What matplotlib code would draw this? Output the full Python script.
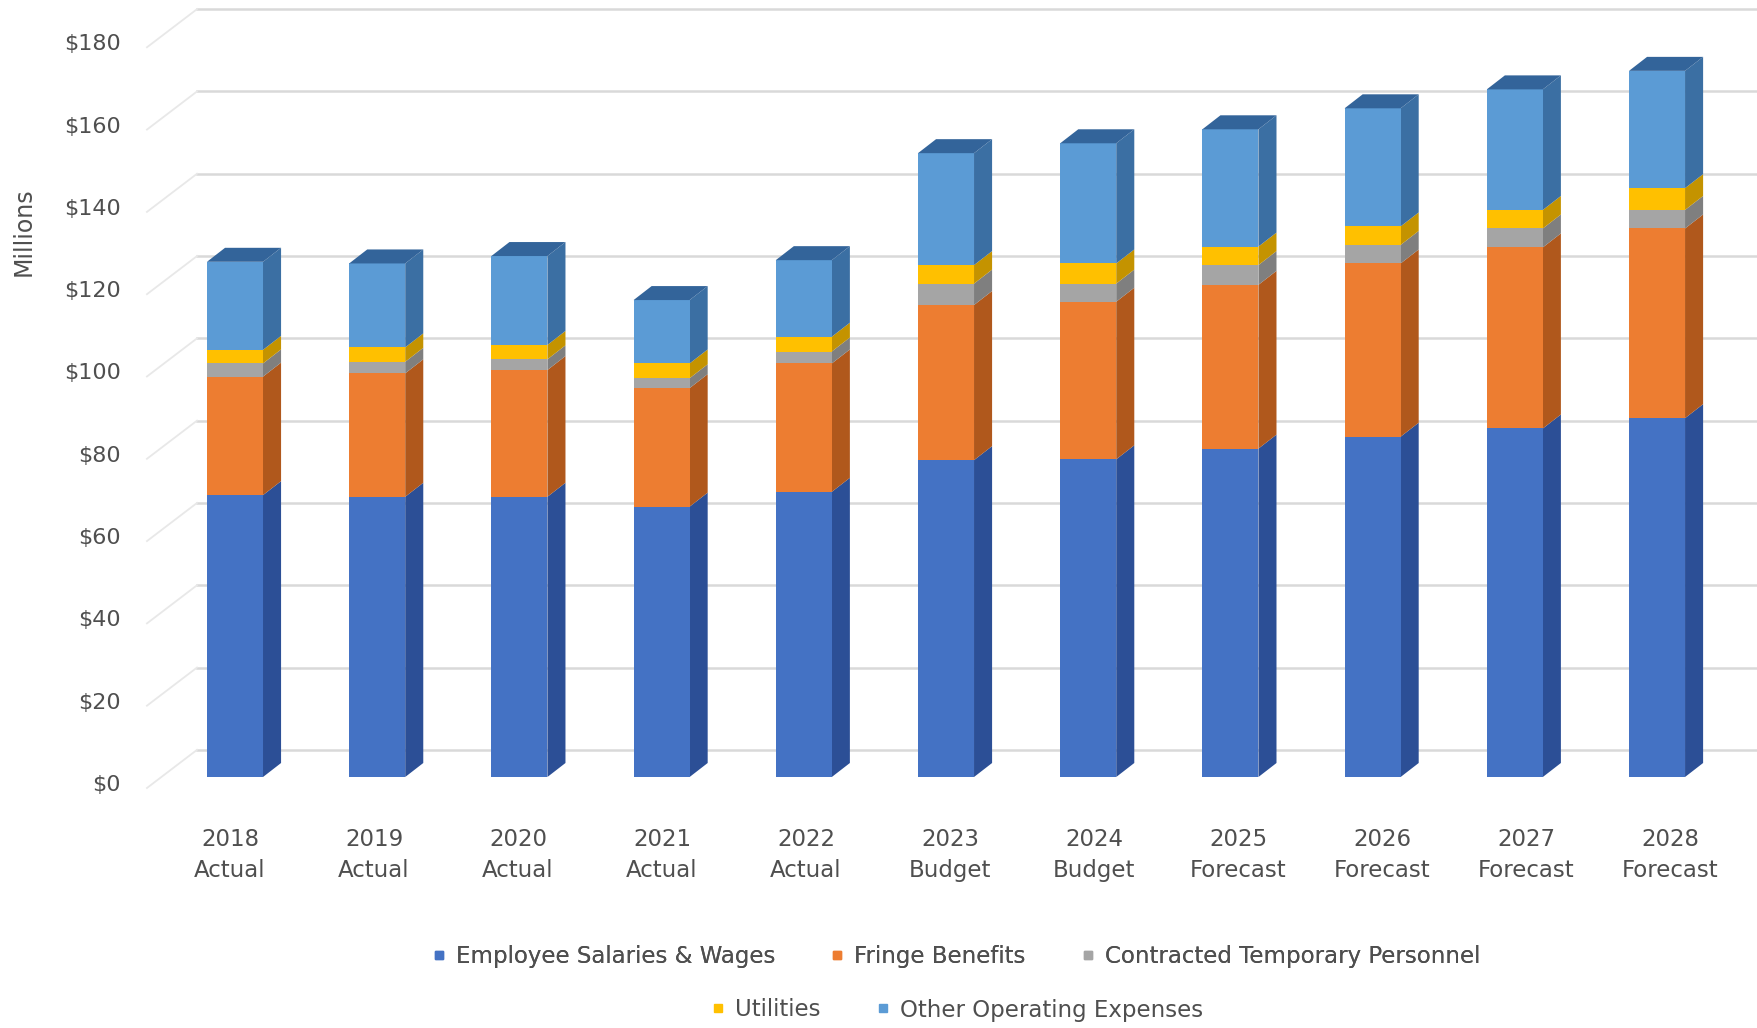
import numpy as np
import matplotlib
matplotlib.use("Agg")
import matplotlib.pyplot as plt
from matplotlib.patches import Polygon
from matplotlib.lines import Line2D
from matplotlib.transforms import ScaledTranslation

# Operating budget by category, $ millions
years = ["2018", "2019", "2020", "2021", "2022", "2023", "2024", "2025", "2026", "2027", "2028"]
kinds = ["Actual", "Actual", "Actual", "Actual", "Actual", "Budget", "Budget",
         "Forecast", "Forecast", "Forecast", "Forecast"]

salaries = [68.5, 68.1, 68.1, 65.7, 69.3, 77.0, 77.2, 79.8, 82.7, 84.7, 87.2]
fringe = [28.8, 30.0, 30.8, 28.8, 31.2, 37.7, 38.3, 39.8, 42.1, 44.0, 46.1]
contracted = [3.2, 2.8, 2.6, 2.4, 2.9, 5.2, 4.4, 4.8, 4.5, 4.6, 4.5]
utilities = [3.3, 3.5, 3.5, 3.6, 3.6, 4.5, 4.9, 4.5, 4.5, 4.5, 5.3]
other_opex = [21.4, 20.4, 21.6, 15.4, 18.6, 27.2, 29.2, 28.5, 28.7, 29.3, 28.5]

series_names = ["Employee Salaries & Wages", "Fringe Benefits", "Contracted Temporary Personnel",
                "Utilities", "Other Operating Expenses"]
front_colors = ["#4472C4", "#ED7D31", "#A5A5A5", "#FFC000", "#5B9BD5"]
side_colors = ["#2C4F96", "#B0581C", "#7F7F7F", "#C49300", "#3B6FA3"]
top_color = "#33649A"
yticks = list(range(0, 181, 20))

text_color = "#4f4f4f"
grid_color = "#d9d9d9"

# pseudo-3D geometry (category units / $M units)
bar_w = 0.394
dx, dy = 0.127, 3.4          # bar depth offset
wall_x0, wall_dy = -0.267, 6.6  # back wall start and lift
front_x, front_dy = -0.619, -2.67

W, H = 1757, 1028
fig = plt.figure(figsize=(W / 100, H / 100), dpi=100)
ax = fig.add_axes([140 / W, 1 - 800 / H, (W - 140) / W, 800 / H])
ax.set_xlim(-0.668, 10.703)
ax.set_ylim(-5.59, 188.82)
for s in ax.spines.values():
    s.set_visible(False)

# back wall gridlines and the slanted left-wall lines
for v in yticks:
    ax.plot([wall_x0, 10.703], [v + wall_dy, v + wall_dy], color=grid_color, lw=1.8, zorder=1)
    ax.plot([front_x, wall_x0], [v + front_dy, v + wall_dy], color="#e8e8e8", lw=1.3, zorder=1)

x = np.arange(len(years))
stack = [salaries, fringe, contracted, utilities, other_opex]
bottom = np.zeros(len(years))
for k, vals in enumerate(stack):
    vals = np.array(vals)
    ax.bar(x, vals, bottom=bottom, width=bar_w, color=front_colors[k], zorder=3, linewidth=0)
    for i in range(len(x)):
        b, t = bottom[i], bottom[i] + vals[i]
        r = x[i] + bar_w / 2
        side = Polygon([(r, b), (r + dx, b + dy), (r + dx, t + dy), (r, t)],
                       closed=True, facecolor=side_colors[k], edgecolor="none", zorder=2.5)
        ax.add_patch(side)
    bottom = bottom + vals

# top faces
for i in range(len(x)):
    l, r, t = x[i] - bar_w / 2, x[i] + bar_w / 2, bottom[i]
    ax.add_patch(Polygon([(l, t), (l + dx, t + dy), (r + dx, t + dy), (r, t)],
                         closed=True, facecolor=top_color, edgecolor="none", zorder=3.5))

# axis labels
ax.set_yticks(yticks)
ax.set_yticklabels([f"${v}" for v in yticks], fontsize=16, color=text_color)
ax.tick_params(axis="y", length=0, pad=14)
shift = ScaledTranslation(0, -6 / 100, fig.dpi_scale_trans)
for lab in ax.get_yticklabels():
    lab.set_transform(lab.get_transform() + shift)

ax.set_xticks(x * 1.0127 - 0.035)
ax.set_xticklabels([f"{y}\n{k}" for y, k in zip(years, kinds)], fontsize=16.5,
                   color=text_color, linespacing=1.45)
ax.tick_params(axis="x", length=0, pad=20)

fig.text(24 / W, 1 - 232 / H, "Millions", rotation=90, ha="center", va="center",
         fontsize=17, color=text_color)

handles = [Line2D([], [], marker="s", ls="none", markersize=6, color=c) for c in front_colors]
leg1 = fig.legend(handles[:3], series_names[:3], loc="center", ncol=3,
                  bbox_to_anchor=(956 / W, 1 - 957 / H), frameon=False, fontsize=16.5,
                  handlelength=0.6, handletextpad=0.45, columnspacing=2.4, labelcolor=text_color)
fig.add_artist(leg1)
fig.legend(handles[3:], series_names[3:], loc="center", ncol=2,
           bbox_to_anchor=(957 / W, 1 - 1010 / H), frameon=False, fontsize=16.5,
           handlelength=0.6, handletextpad=0.45, columnspacing=2.4, labelcolor=text_color)

fig.savefig("out.png", dpi=100, facecolor="white")
